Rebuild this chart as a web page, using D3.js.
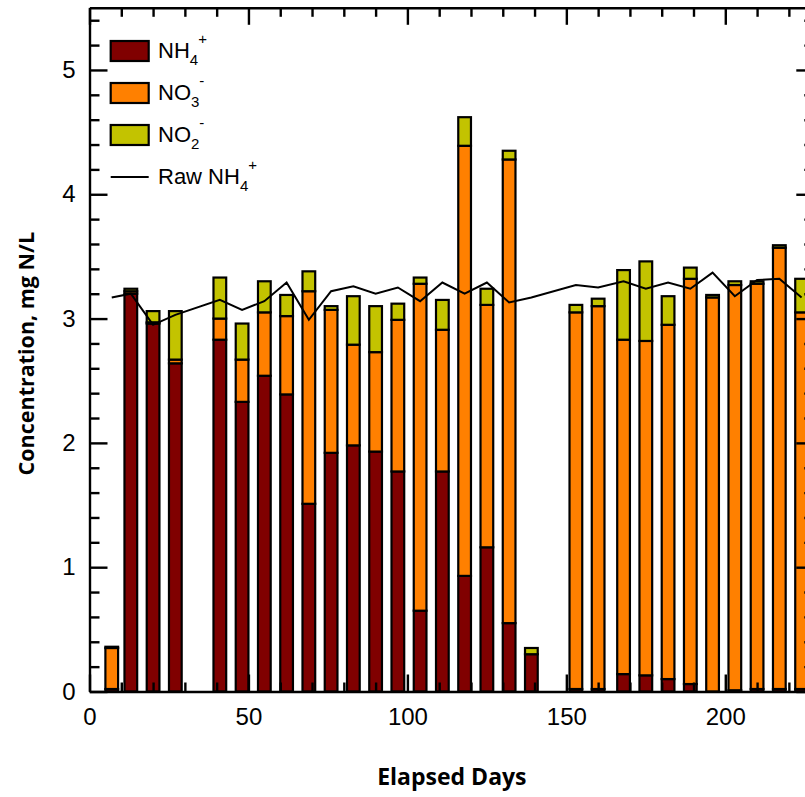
<!DOCTYPE html>
<html>
<head>
<meta charset="utf-8">
<script src="https://cdn.jsdelivr.net/npm/d3@7"></script>
<style>
  html, body { margin: 0; padding: 0; background: #fff; }
  svg { display: block; }
</style>
</head>
<body>
<svg id="chart" width="805" height="797"></svg>
<script>
// ---- data ----
const days   = [7, 13, 20, 27, 41, 48, 55, 62, 69, 76, 83, 90, 97, 104, 111, 118, 125, 132, 139,
                153, 160, 168, 175, 182, 189, 196, 203, 210, 217, 224];
const nh4    = [0.02, 3.20, 2.96, 2.64, 2.83, 2.33, 2.54, 2.39, 1.51, 1.92, 1.98, 1.93, 1.77, 0.65, 1.77, 0.93, 1.16, 0.55, 0.30,
                0.02, 0.02, 0.14, 0.13, 0.10, 0.06, 0.00, 0.01, 0.02, 0.02, 0.02];
const no3    = [0.33, 0.02, 0.01, 0.03, 0.17, 0.34, 0.51, 0.63, 1.71, 1.15, 0.81, 0.80, 1.22, 2.63, 1.14, 3.46, 1.95, 3.73, 0.00,
                3.03, 3.08, 2.69, 2.69, 2.85, 3.26, 3.17, 3.26, 3.26, 3.55, 3.03];
const no2    = [0.01, 0.02, 0.09, 0.39, 0.33, 0.29, 0.25, 0.17, 0.16, 0.03, 0.39, 0.37, 0.13, 0.05, 0.24, 0.23, 0.13, 0.07, 0.05,
                0.06, 0.06, 0.56, 0.64, 0.23, 0.09, 0.02, 0.03, 0.02, 0.02, 0.27];
const rawNH4 = [3.17, 3.20, 2.95, 3.03, 3.15, 3.07, 3.14, 3.29, 2.99, 3.22, 3.26, 3.20, 3.25, 3.14, 3.29, 3.20, 3.29, 3.13, 3.17,
                3.27, 3.25, 3.30, 3.24, 3.29, 3.24, 3.37, 3.18, 3.31, 3.32, 3.17];
const seriesKeys   = ["NH4", "NO3", "NO2"];
const seriesColors = ["#800000", "#FF8000", "#C3C300"];
const xTicks = [0, 50, 100, 150, 200];
const yTicks = [0, 1, 2, 3, 4, 5];

// ---- layout ----
const svg = d3.select("#chart");
const pL = 89.5, pR = 814.3, pT = 7.8, pB = 691.5;
const x = d3.scaleLinear().domain([0, 228]).range([pL, pR]);
const y = d3.scaleLinear().domain([0, 5.5]).range([pB, pT]);
const barHalf = 2; // days

const table = days.map((d, i) => ({ day: d, NH4: nh4[i], NO3: no3[i], NO2: no2[i] }));
const stacked = d3.stack().keys(seriesKeys)(table);

// bars
const gBars = svg.append("g");
stacked.forEach((layer, li) => {
  gBars.append("g")
    .selectAll("rect")
    .data(layer)
    .join("rect")
    .attr("x", d => x(d.data.day - barHalf))
    .attr("width", d => x(d.data.day + barHalf) - x(d.data.day - barHalf))
    .attr("y", d => y(d[1]))
    .attr("height", d => Math.max(0, y(d[0]) - y(d[1])))
    .attr("fill", seriesColors[li])
    .attr("stroke", "#000")
    .attr("stroke-width", 2.2);
});

// raw NH4 line
const line = d3.line().x(d => x(d[0])).y(d => y(d[1]));
svg.append("path")
  .datum(days.map((d, i) => [d, rawNH4[i]]))
  .attr("d", line)
  .attr("fill", "none")
  .attr("stroke", "#000")
  .attr("stroke-width", 2);

// ---- axes ----
const minorY = d3.range(0, 5.51, 0.2).filter(v => Math.abs(v - Math.round(v)) > 1e-6);
const minorX = d3.range(0, 229, 10).filter(v => v % 50 !== 0);

function styleAxis(g) {
  g.selectAll("path.domain").attr("stroke", "#000").attr("stroke-width", 2.4);
  g.selectAll(".tick line").attr("stroke", "#000").attr("stroke-width", 2.4);
}

// left
svg.append("g").attr("transform", `translate(${pL},0)`)
  .call(d3.axisLeft(y).tickValues(yTicks).tickFormat(d3.format("d")).tickSizeInner(-18).tickSizeOuter(0).tickPadding(14))
  .call(styleAxis)
  .call(g => g.selectAll("text").attr("font-family", "'Liberation Sans', Arial, sans-serif").attr("font-size", 24).attr("fill", "#000"));
svg.append("g").attr("transform", `translate(${pL},0)`)
  .call(d3.axisLeft(y).tickValues(minorY).tickFormat("").tickSizeInner(-10).tickSizeOuter(0))
  .call(styleAxis).call(g => g.select("path.domain").remove());

// right
svg.append("g").attr("transform", `translate(${pR},0)`)
  .call(d3.axisRight(y).tickValues(yTicks).tickFormat("").tickSizeInner(-18).tickSizeOuter(0))
  .call(styleAxis);
svg.append("g").attr("transform", `translate(${pR},0)`)
  .call(d3.axisRight(y).tickValues(minorY).tickFormat("").tickSizeInner(-10).tickSizeOuter(0))
  .call(styleAxis).call(g => g.select("path.domain").remove());

// bottom
svg.append("g").attr("transform", `translate(0,${pB})`)
  .call(d3.axisBottom(x).tickValues(xTicks).tickFormat(d3.format("d")).tickSizeInner(-17).tickSizeOuter(0).tickPadding(16))
  .call(styleAxis)
  .call(g => g.selectAll("text").attr("font-family", "'Liberation Sans', Arial, sans-serif").attr("font-size", 24).attr("fill", "#000"));
svg.append("g").attr("transform", `translate(0,${pB})`)
  .call(d3.axisBottom(x).tickValues(minorX).tickFormat("").tickSizeInner(-9).tickSizeOuter(0))
  .call(styleAxis).call(g => g.select("path.domain").remove());

// top
svg.append("g").attr("transform", `translate(0,${pT})`)
  .call(d3.axisTop(x).tickValues(xTicks).tickFormat("").tickSizeInner(-17).tickSizeOuter(0))
  .call(styleAxis);
svg.append("g").attr("transform", `translate(0,${pT})`)
  .call(d3.axisTop(x).tickValues(minorX).tickFormat("").tickSizeInner(-9).tickSizeOuter(0))
  .call(styleAxis).call(g => g.select("path.domain").remove());

// axis titles
svg.append("text")
  .attr("x", (pL + pR) / 2).attr("y", 785)
  .attr("text-anchor", "middle")
  .attr("font-family", "'Open Sans', sans-serif").attr("font-weight", "bold").attr("font-size", 23)
  .text("Elapsed Days");
svg.append("text")
  .attr("transform", `translate(34,${(pT + pB) / 2 + 4}) rotate(-90)`)
  .attr("text-anchor", "middle")
  .attr("font-family", "'Open Sans', sans-serif").attr("font-weight", "bold").attr("font-size", 21.5)
  .text("Concentration, mg N/L");

// ---- legend ----
const legendFont = "'Liberation Sans', Arial, sans-serif";
const legendItems = [
  { base: "NH", sub: "4", sup: "+", color: seriesColors[0], type: "box", cy: 51 },
  { base: "NO", sub: "3", sup: "-", color: seriesColors[1], type: "box", cy: 93 },
  { base: "NO", sub: "2", sup: "-", color: seriesColors[2], type: "box", cy: 135 },
  { base: "Raw NH", sub: "4", sup: "+", color: "#000", type: "line", cy: 177 }
];
const lg = svg.append("g");
legendItems.forEach(it => {
  if (it.type === "box") {
    lg.append("rect").attr("x", 110.7).attr("y", it.cy - 10).attr("width", 38).attr("height", 20)
      .attr("fill", it.color).attr("stroke", "#000").attr("stroke-width", 2.2);
  } else {
    lg.append("line").attr("x1", 110.7).attr("x2", 148.7).attr("y1", it.cy).attr("y2", it.cy)
      .attr("stroke", "#000").attr("stroke-width", 2);
  }
  const t = lg.append("text").attr("x", 158).attr("y", it.cy + 7)
    .attr("font-family", legendFont).attr("font-size", 22).attr("fill", "#000");
  t.append("tspan").text(it.base);
  t.append("tspan").attr("font-size", 15).attr("dy", 7).text(it.sub);
  t.append("tspan").attr("font-size", 15).attr("dy", -21).text(it.sup);
});
</script>
</body>
</html>
